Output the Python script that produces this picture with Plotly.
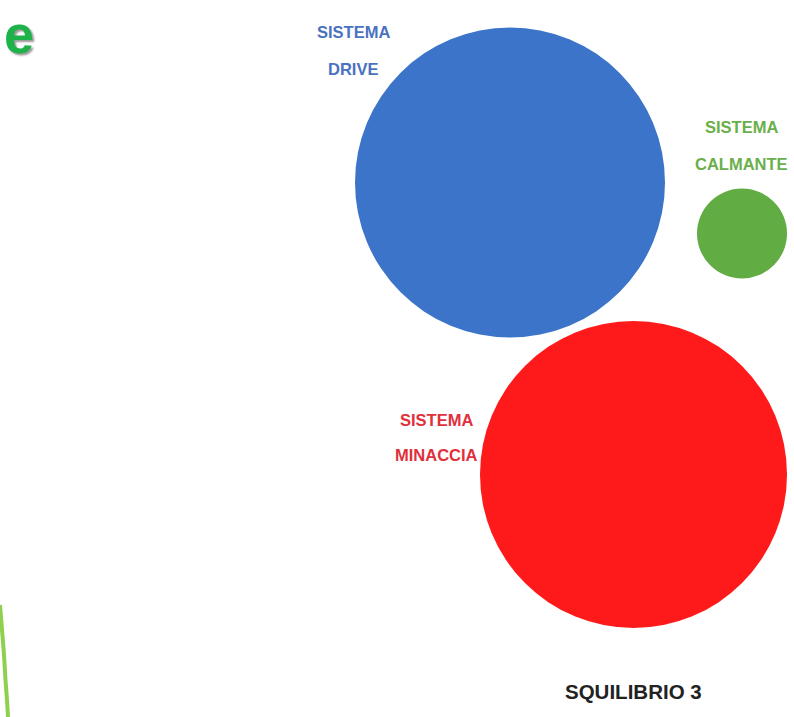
import plotly.graph_objects as go

# Circle data (pixel-like coordinate system, y down)
circle_names = ["SISTEMA DRIVE", "SISTEMA CALMANTE", "SISTEMA MINACCIA"]
circle_cx = [510, 742, 633.5]
circle_cy = [182.5, 233.5, 474.5]
circle_r = [155, 45, 153.5]
circle_colors = ["#3b74c9", "#62ac44", "#fe1a1a"]

# Labels (two lines each)
label_line1 = ["SISTEMA", "SISTEMA", "SISTEMA"]
label_line2 = ["DRIVE", "CALMANTE", "MINACCIA"]
label_x = [353, 741, 436]
label_y1 = [31.5, 126.5, 420]
label_y2 = [68.5, 164, 455]
label_colors = ["#4a72c0", "#6aaf4c", "#e0303c"]

title_text = "SQUILIBRIO 3"
title_x = 633
title_y = 691.5

# Decorative elements
deco_letter = "e"
deco_letter_x = 19
deco_letter_y = 34
curve_x = [0, 2, 4, 5.5, 7, 8]
curve_y = [605, 630, 655, 680, 700, 717]

fig = go.Figure()

for name, cx, cy, r, col in zip(circle_names, circle_cx, circle_cy, circle_r, circle_colors):
    fig.add_shape(type="circle", xref="x", yref="y",
                  x0=cx - r, x1=cx + r, y0=cy - r, y1=cy + r,
                  fillcolor=col, line=dict(width=0), layer="below")

fig.add_trace(go.Scatter(x=curve_x, y=curve_y, mode="lines",
                         line=dict(color="#8fd14f", width=4, shape="spline"),
                         hoverinfo="skip", showlegend=False, cliponaxis=False))

lab_font = "Liberation Sans Narrow, Arial Narrow, Liberation Sans, sans-serif"
for l1, l2, x, y1, y2, c in zip(label_line1, label_line2, label_x, label_y1, label_y2, label_colors):
    for t, y in ((l1, y1), (l2, y2)):
        fig.add_annotation(x=x, y=y, xref="x", yref="y", text=t, showarrow=False,
                           font=dict(family=lab_font, size=16.5, color=c, weight="bold"),
                           align="center")

fig.add_annotation(x=title_x, y=title_y, xref="x", yref="y", text=title_text,
                   showarrow=False,
                   font=dict(family=lab_font, size=20.5, color="#222222", weight="bold"))

fig.add_annotation(x=deco_letter_x, y=deco_letter_y, xref="x", yref="y", text=deco_letter,
                   showarrow=False,
                   font=dict(family="Liberation Sans, Arial, sans-serif", size=54,
                             color="#1db34a", weight="bold",
                             shadow="2px 2px 2px #999999"))

fig.update_xaxes(range=[0, 794], visible=False, fixedrange=True)
fig.update_yaxes(range=[717, 0], visible=False, fixedrange=True)
fig.update_layout(width=794, height=717, margin=dict(l=0, r=0, t=0, b=0),
                  paper_bgcolor="white", plot_bgcolor="white", showlegend=False,
                  hovermode=False)

fig.write_html("out.html", config={"displayModeBar": False, "staticPlot": True},
               post_script="document.body.style.margin='0';document.body.style.overflow='hidden';")
